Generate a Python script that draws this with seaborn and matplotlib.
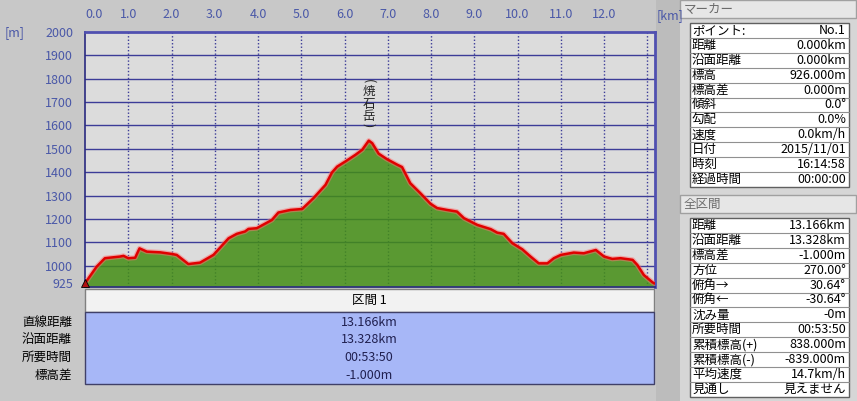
import matplotlib
matplotlib.use('Agg')
import matplotlib.pyplot as plt
import numpy as np
import seaborn as sns
from matplotlib.patches import Rectangle

sns.set_style('white')
plt.rcParams['font.family'] = ['Noto Sans CJK JP', 'DejaVu Sans']

# profile: distance [km], elevation [m]
dist = [0.00, 0.27, 0.46, 0.81, 0.89, 1.00, 1.16, 1.26, 1.43, 1.74, 2.01, 2.12,
        2.39, 2.66, 2.97, 3.32, 3.51, 3.70, 3.78, 3.97, 4.32, 4.47, 4.75, 5.02,
        5.28, 5.56, 5.71, 5.83, 6.02, 6.25, 6.41, 6.56, 6.64, 6.79, 6.98, 7.22,
        7.33, 7.52, 7.75, 7.99, 8.14, 8.37, 8.60, 8.76, 9.07, 9.38, 9.53, 9.68,
        9.88, 10.11, 10.30, 10.49, 10.69, 10.84, 11.00, 11.30, 11.53, 11.81,
        12.00, 12.19, 12.38, 12.66, 12.77, 12.92, 13.12, 13.166]
elev = [926, 997, 1033, 1040, 1043, 1033, 1035, 1075, 1061, 1058, 1051, 1047,
        1008, 1014, 1047, 1118, 1137, 1147, 1158, 1161, 1196, 1228, 1239, 1243,
        1289, 1346, 1399, 1424, 1446, 1474, 1496, 1535, 1524, 1479, 1456, 1432,
        1422, 1353, 1311, 1265, 1247, 1239, 1232, 1204, 1175, 1157, 1142, 1137,
        1097, 1071, 1040, 1011, 1011, 1033, 1047, 1057, 1054, 1068, 1040, 1030,
        1033, 1026, 1004, 961, 930, 925]
total_km = 13.166
peak_name = '焼石岳'

x_ticks = list(range(0, 13))
x_labels = ['%.1f' % t for t in x_ticks]
y_ticks = [925] + list(range(1000, 2001, 100))

section_title = '区間 1'
section_keys = ['直線距離', '沿面距離', '所要時間', '標高差']
section_vals = ['13.166km', '13.328km', '00:53:50', '-1.000m']

marker_keys = ['ポイント:', '距離', '沿面距離', '標高', '標高差', '傾斜', '勾配',
               '速度', '日付', '時刻', '経過時間']
marker_vals = ['No.1', '0.000km', '0.000km', '926.000m', '0.000m', '0.0°', '0.0%',
               '0.0km/h', '2015/11/01', '16:14:58', '00:00:00']

all_keys = ['距離', '沿面距離', '標高差', '方位', '俯角→', '俯角←', '沈み量',
            '所要時間', '累積標高(+)', '累積標高(-)', '平均速度', '見通し']
all_vals = ['13.166km', '13.328km', '-1.000m', '270.00°', '30.64°', '-30.64°',
            '-0m', '00:53:50', '838.000m', '-839.000m', '14.7km/h', '見えません']

W, H = 857, 401
BLUE = '#3c3c98'
TXT_BLUE = '#4a58a8'

fig = plt.figure(figsize=(W / 100, H / 100), dpi=100, facecolor='#c8c8c8')

# background layer in pixel coords
bg = fig.add_axes([0, 0, 1, 1])
bg.set_xlim(0, W)
bg.set_ylim(H, 0)
bg.axis('off')
bg.add_patch(Rectangle((656, 0), 24, H, color='#bcbcbc', lw=0))
bg.add_patch(Rectangle((680, 0), W - 680, H, color='#d6d6d6', lw=0))

fs = 9

# section table below the plot
bg.add_patch(Rectangle((85, 289), 569, 23, facecolor='#f2f2f2', edgecolor='#808080', lw=1))
bg.text(369, 300.5, section_title, ha='center', va='center', fontsize=fs, color='black')
bg.add_patch(Rectangle((85, 312), 569, 72, facecolor='#a7b7f7', edgecolor='#404068', lw=1))
for i, (k, v) in enumerate(zip(section_keys, section_vals)):
    yy = 322 + i * 17.7
    bg.text(72, yy, k, ha='right', va='center', fontsize=fs, color='black')
    bg.text(369, yy, v, ha='center', va='center', fontsize=fs, color='#202050')


def panel(y0, title, keys, vals, row_h=14.9):
    bg.add_patch(Rectangle((680, y0), W - 681, 18, facecolor='#e6e6e6',
                           edgecolor='#a0a0a0', lw=1))
    bg.text(684, y0 + 9, title, ha='left', va='center', fontsize=fs, color='#6a6a6a')
    top = y0 + 23
    n = len(keys)
    bg.add_patch(Rectangle((690, top), 159, n * row_h, facecolor='white',
                           edgecolor='#606060', lw=1))
    for i, (k, v) in enumerate(zip(keys, vals)):
        yc = top + (i + 0.5) * row_h
        if i:
            bg.plot([690, 849], [top + i * row_h] * 2, color='#909090', lw=0.8)
        bg.text(692, yc, k, ha='left', va='center', fontsize=fs, color='black')
        bg.text(846, yc, v, ha='right', va='center', fontsize=fs, color='black')


panel(0, 'マーカー', marker_keys, marker_vals)
panel(195, '全区間', all_keys, all_vals)

bg.text(5, 33, '[m]', ha='left', va='center', fontsize=fs, color=TXT_BLUE)
bg.text(657, 16, '[km]', ha='left', va='center', fontsize=fs, color=TXT_BLUE)

# profile axes
left, right, top, bottom = 85, 654.5, 31.7, 287
ax = fig.add_axes([left / W, 1 - bottom / H, (right - left) / W, (bottom - top) / H])
ax.set_facecolor('#dcdcdc')
ax.set_xlim(0, total_km)
ax.set_ylim(910, 2000)

for yv in range(1000, 2000, 100):
    ax.axhline(yv, color=BLUE, lw=1, zorder=1)
for xv in range(1, 14):
    ax.axvline(xv, color=BLUE, lw=1, ls=(0, (1, 1.5)), zorder=1)

ax.fill_between(dist, elev, 910, color='#438e14', alpha=0.85, lw=0, zorder=2)
ax.plot(dist, elev, color='#ff7070', lw=3.6, alpha=0.5, zorder=3)
sns.lineplot(x=dist, y=elev, ax=ax, color='#e00000', lw=1.8, zorder=4, sort=False)
ax.plot(dist[0], elev[0], marker='^', color='#b01010', ms=6, mec='black', mew=0.6,
        zorder=5, clip_on=False)

# vertical peak label: "(" / chars / ")" stacked above the summit
ipk = int(np.argmax(elev))
px, py = dist[ipk], elev[ipk]
ax.annotate('(', (px, py), xytext=(0, 59), textcoords='offset pixels', rotation=-90,
            ha='center', va='center', fontsize=fs, zorder=6)
for ch, off in zip(peak_name, [49, 36, 24]):
    ax.annotate(ch, (px, py), xytext=(0, off), textcoords='offset pixels',
                ha='center', va='center', fontsize=fs, zorder=6)
ax.annotate(')', (px, py), xytext=(0, 15), textcoords='offset pixels', rotation=-90,
            ha='center', va='center', fontsize=fs, zorder=6)

ax.set_xticks(x_ticks)
ax.set_xticklabels(x_labels)
ax.set_yticks(y_ticks)
ax.set_yticklabels([str(t) for t in y_ticks])
ax.xaxis.tick_top()
ax.tick_params(axis='x', length=0, pad=8, labelsize=fs, labelcolor=TXT_BLUE)
ax.tick_params(axis='y', length=0, pad=8.5, labelsize=fs, labelcolor=TXT_BLUE)
ax.get_xticklabels()[0].set_horizontalalignment('left')
ax.set_xlabel('')
ax.set_ylabel('')
for s in ['top', 'right']:
    ax.spines[s].set_color('#5050b0')
    ax.spines[s].set_linewidth(2)
for s in ['left', 'bottom']:
    ax.spines[s].set_color('#2a2a80')
    ax.spines[s].set_linewidth(1.2)

fig.savefig('out.png', dpi=100, facecolor=fig.get_facecolor())
